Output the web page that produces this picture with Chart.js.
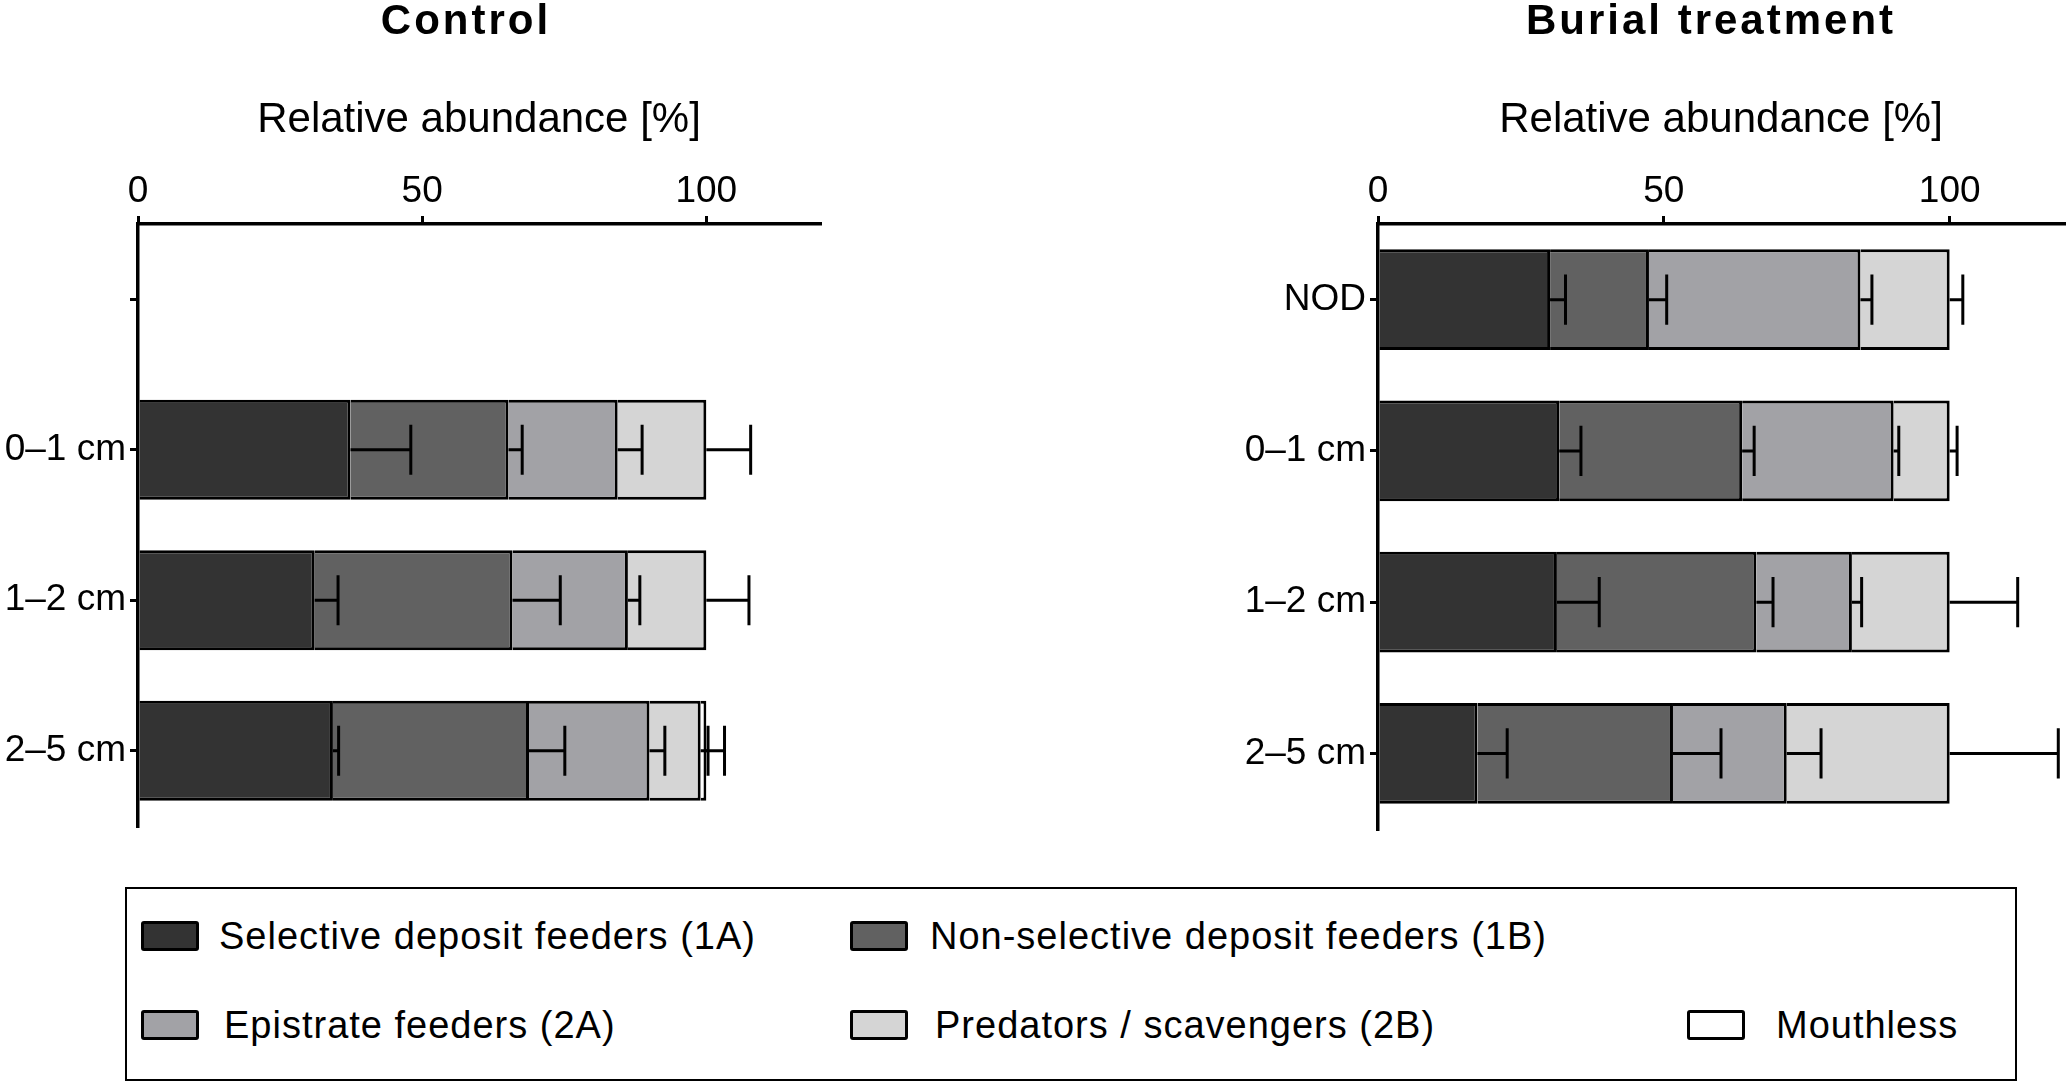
<!DOCTYPE html>
<html>
<head>
<meta charset="utf-8">
<script src="https://cdn.jsdelivr.net/npm/chart.js@4.4.1/dist/chart.umd.min.js"></script>
<style>
  html, body { margin: 0; padding: 0; background: #fff; }
  body { width: 2067px; height: 1083px; position: relative; overflow: hidden;
         font-family: "Liberation Sans", Arial, sans-serif; }
  .panel { position: absolute; top: 0; }
  #controlBox { left: 0; width: 830px; height: 830px; }
  #burialBox { left: 1180px; width: 887px; height: 833px; }
  #legend { position: absolute; left: 125px; top: 887px; width: 1892px; height: 194px;
            border: 2px solid #000; box-sizing: border-box; }
  .item { position: absolute; height: 40px; display: flex; align-items: center;
          font-size: 38px; letter-spacing: 1px; color: #000; white-space: nowrap; }
  .swatch { width: 58px; height: 30px; border: 3px solid #000; border-radius: 3px;
            box-sizing: border-box; flex: none; }
</style>
</head>
<body>
<div id="controlBox" class="panel"><canvas id="control"></canvas></div>
<div id="burialBox" class="panel"><canvas id="burial"></canvas></div>
<div id="legend"></div>

<script>
// categorias (profundidad)
const controlDepths = ['', '0–1 cm', '1–2 cm', '2–5 cm'];
const burialDepths = ['NOD', '0–1 cm', '1–2 cm', '2–5 cm'];
const xTicks = [0, 50, 100];

// grupos tróficos
const groups = [
  'Selective deposit feeders (1A)',
  'Non-selective deposit feeders (1B)',
  'Epistrate feeders (2A)',
  'Predators / scavengers (2B)',
  'Mouthless'
];
const groupColors = ['#333333', '#616161', '#a2a2a6', '#d5d5d5', '#ffffff'];

// Control: abundancia relativa media [%]
const controlSel = [null, 37.4, 31.1, 34.3];
const controlNonSel = [null, 27.8, 34.8, 34.5];
const controlEpi = [null, 19.2, 20.3, 21.2];
const controlPred = [null, 15.6, 13.8, 9.0];
const controlMouthless = [null, 0, 0, 1.0];
// Control: barras de error
const controlSelErr = [null, 10.6, 4.1, 1.0];
const controlNonSelErr = [null, 2.4, 8.4, 6.3];
const controlEpiErr = [null, 4.3, 2.1, 2.7];
const controlPredErr = [null, 7.8, 7.5, 1.3];
const controlMouthlessErr = [null, 0, 0, 3.2];

// Burial treatment: abundancia relativa media [%]
const burialSel = [30.1, 31.7, 31.3, 17.4];
const burialNonSel = [17.3, 32.0, 34.9, 34.2];
const burialEpi = [37.0, 26.5, 16.7, 19.9];
const burialPred = [15.6, 9.8, 17.1, 28.5];
const burialMouthless = [0, 0, 0, 0];
// Burial treatment: barras de error
const burialSelErr = [2.7, 3.8, 7.4, 5.2];
const burialNonSelErr = [3.1, 2.1, 2.9, 8.4];
const burialEpiErr = [2.0, 0.9, 1.7, 6.0];
const burialPredErr = [2.3, 1.3, 11.9, 19.0];
const burialMouthlessErr = [0, 0, 0, 0];

const FONT = '"Liberation Sans", Arial, sans-serif';
Chart.defaults.font.family = FONT;
Chart.defaults.color = '#000';

// Dibuja las barras de error (solo hacia la derecha)
const errorBars = {
  id: 'errorBars',
  afterDatasetsDraw(chart) {
    const { ctx } = chart;
    const x = chart.scales.x;
    const sums = [];
    ctx.save();
    ctx.strokeStyle = '#000';
    ctx.lineWidth = 3;
    chart.data.datasets.forEach((ds, i) => {
      const meta = chart.getDatasetMeta(i);
      meta.data.forEach((bar, j) => {
        const v = ds.data[j];
        if (v == null) return;
        sums[j] = (sums[j] || 0) + v;
        const e = ds.errors[j];
        if (!e) return;
        const x1 = x.getPixelForValue(sums[j] + e);
        const half = bar.height / 4;
        ctx.beginPath();
        ctx.moveTo(bar.x, bar.y);
        ctx.lineTo(x1, bar.y);
        ctx.moveTo(x1, bar.y - half);
        ctx.lineTo(x1, bar.y + half);
        ctx.stroke();
      });
    });
    ctx.restore();
  }
};

// Título del panel
const panelTitle = {
  id: 'panelTitle',
  afterDraw(chart, args, opts) {
    const { ctx, chartArea } = chart;
    ctx.save();
    ctx.font = 'bold 42px ' + FONT;
    ctx.letterSpacing = '3px';
    ctx.fillStyle = '#000';
    ctx.textAlign = 'center';
    ctx.textBaseline = 'middle';
    ctx.fillText(opts.text, (chartArea.left + chartArea.right) / 2 + opts.shift, 22);
    ctx.restore();
  }
};

function makeDatasets(values, errors) {
  return groups.map((name, i) => ({
    label: name,
    data: values[i],
    errors: errors[i],
    backgroundColor: groupColors[i],
    borderColor: '#000',
    borderWidth: { top: 3, bottom: 3, left: 0, right: 3 },
    borderSkipped: false,
    barPercentage: 0.665,
    categoryPercentage: 1
  }));
}

function makeOptions(title, shift, yWidth, padRight) {
  return {
    indexAxis: 'y',
    responsive: true,
    maintainAspectRatio: false,
    animation: false,
    layout: { padding: { left: 0, right: padRight, top: 0, bottom: 4 } },
    plugins: {
      legend: { display: false },
      tooltip: { enabled: false },
      panelTitle: { text: title, shift: shift }
    },
    scales: {
      x: {
        position: 'top',
        stacked: true,
        min: 0,
        max: 120,
        afterBuildTicks: (axis) => { axis.ticks = xTicks.map(v => ({ value: v })); },
        afterFit: (axis) => { axis.height = 224; },
        ticks: { font: { size: 37 }, padding: 2, color: '#000' },
        grid: { drawOnChartArea: false, drawTicks: true, tickLength: 8, color: '#000', lineWidth: 3 },
        border: { color: '#000', width: 3.5 },
        title: {
          display: true,
          text: 'Relative abundance [%]',
          font: { size: 42 },
          color: '#000',
          padding: { top: 95, bottom: 0 }
        }
      },
      y: {
        stacked: true,
        afterFit: (axis) => { axis.width = yWidth; axis.paddingTop = 0; axis.paddingBottom = 0; },
        ticks: { font: { size: 37 }, padding: 4, color: '#000' },
        grid: { drawOnChartArea: false, drawTicks: true, tickLength: 8, color: '#000', lineWidth: 3, offset: false },
        border: { color: '#000', width: 3.5 }
      }
    }
  };
}

new Chart(document.getElementById('control'), {
  type: 'bar',
  data: {
    labels: controlDepths,
    datasets: makeDatasets(
      [controlSel, controlNonSel, controlEpi, controlPred, controlMouthless],
      [controlSelErr, controlNonSelErr, controlEpiErr, controlPredErr, controlMouthlessErr]
    )
  },
  options: makeOptions('Control', -13, 138, 10),
  plugins: [errorBars, panelTitle]
});

new Chart(document.getElementById('burial'), {
  type: 'bar',
  data: {
    labels: burialDepths,
    datasets: makeDatasets(
      [burialSel, burialNonSel, burialEpi, burialPred, burialMouthless],
      [burialSelErr, burialNonSelErr, burialEpiErr, burialPredErr, burialMouthlessErr]
    )
  },
  options: makeOptions('Burial treatment', -10, 198, 3),
  plugins: [errorBars, panelTitle]
});

// Leyenda (2 filas)
const legendSlots = [
  { left: 14, top: 27, gap: 20 },
  { left: 723, top: 27, gap: 22 },
  { left: 14, top: 116, gap: 25 },
  { left: 723, top: 116, gap: 27 },
  { left: 1560, top: 116, gap: 31 }
];
const legend = document.getElementById('legend');
groups.forEach((name, i) => {
  const s = legendSlots[i];
  const item = document.createElement('div');
  item.className = 'item';
  item.style.left = s.left + 'px';
  item.style.top = s.top + 'px';
  const sw = document.createElement('span');
  sw.className = 'swatch';
  sw.style.background = groupColors[i];
  sw.style.marginRight = s.gap + 'px';
  item.appendChild(sw);
  item.appendChild(document.createTextNode(name));
  legend.appendChild(item);
});
</script>
</body>
</html>
